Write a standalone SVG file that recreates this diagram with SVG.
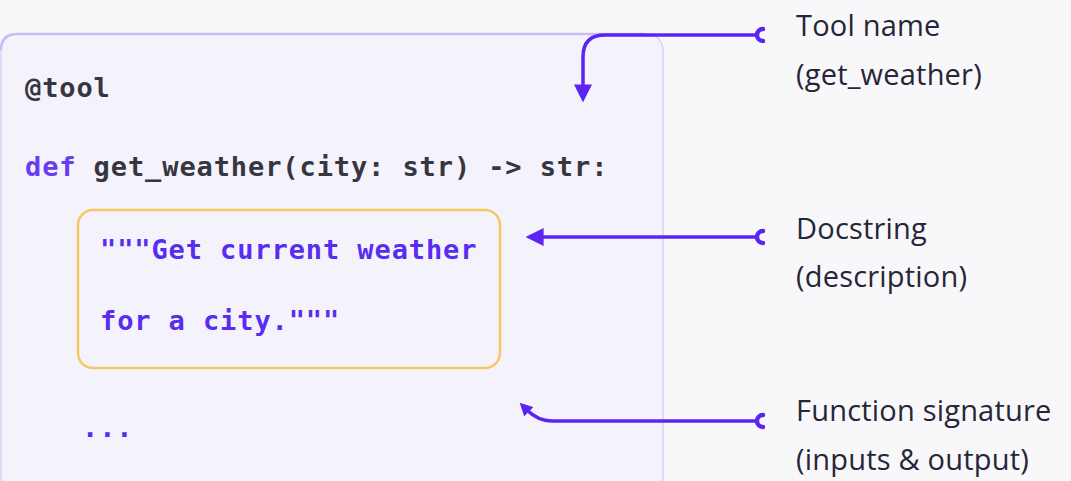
<svg xmlns="http://www.w3.org/2000/svg" width="1071" height="481" viewBox="0 0 1071 481">
  <style>
    .code { font-family: "DejaVu Sans Mono", "Liberation Mono", monospace; font-size: 27px; font-weight: bold; letter-spacing: 0.9px; }
    .dark { fill: #363642; }
    .kw { fill: #6a3cf0; }
    .doc { fill: #5a2cf2; }
    .label { font-family: "Open Sans", "Noto Sans", sans-serif; font-size: 29px; font-weight: 500; letter-spacing: 0.2px; fill: #262638; }
    .wire { fill: none; stroke: #5b24f2; stroke-width: 3.5; stroke-linecap: round; }
    .cap { fill: none; stroke: #5b24f2; stroke-width: 4.5; stroke-linecap: round; }
  </style>
  <defs>
    <marker id="head" viewBox="0 0 10 10" refX="2" refY="5" markerWidth="18" markerHeight="18" markerUnits="userSpaceOnUse" orient="auto">
      <path d="M0,0 L10,5 L0,10 z" fill="#5b24f2"/>
    </marker>
    <marker id="headSmall" viewBox="0 0 10 10" refX="2" refY="5" markerWidth="13" markerHeight="13" markerUnits="userSpaceOnUse" orient="auto">
      <path d="M0,0 L10,5 L0,10 z" fill="#5b24f2"/>
    </marker>
  </defs>

  <!-- page background -->
  <rect x="0" y="0" width="1071" height="481" fill="#f8f8fa"/>

  <!-- code panel -->
  <g id="code-panel">
    <rect x="1" y="34" width="662" height="480" rx="16" fill="#f4f3fb" stroke="#d9d2f7" stroke-width="1.5"/>
    <path d="M1,50 Q1,34 17,34 H645" stroke="#c9bdf6" stroke-width="2.5" fill="none"/>
    <text class="code dark" x="25" y="97">@tool</text>
    <text class="code" x="25" y="176"><tspan class="kw">def</tspan><tspan class="dark"> get_weather(city: str) -&gt; str:</tspan></text>
    <text class="code doc" x="82" y="437">...</text>
  </g>

  <!-- docstring block -->
  <g id="docstring">
    <rect x="78" y="210" width="422" height="158" rx="15" fill="#f4f3fb" stroke="#f5c865" stroke-width="2.5"/>
    <text class="code doc" x="100" y="259">"""Get current weather</text>
    <text class="code doc" x="100" y="330">for a city."""</text>
  </g>

  <!-- annotation labels -->
  <g id="label-tool-name">
    <text class="label" x="796" y="36">Tool name</text>
    <text class="label" x="796" y="85">(get_weather)</text>
  </g>
  <g id="label-docstring">
    <text class="label" x="796" y="239">Docstring</text>
    <text class="label" x="796" y="287">(description)</text>
  </g>
  <g id="label-signature">
    <text class="label" x="796" y="421">Function signature</text>
    <text class="label" x="796" y="470">(inputs &amp; output)</text>
  </g>

  <!-- connectors -->
  <g id="connectors">
    <path class="wire" d="M757,35 H605 Q583,35 583,57 V88" marker-end="url(#head)"/>
    <path class="cap" d="M763,29 A6,6 0 0 0 763,41"/>

    <path class="wire" d="M757,237 H540" marker-end="url(#head)"/>
    <path class="cap" d="M763,231 A6,6 0 0 0 763,243"/>

    <path class="wire" d="M757,421 H552 Q538,421 527,410" marker-end="url(#headSmall)"/>
    <path class="cap" d="M763,415 A6,6 0 0 0 763,427"/>
  </g>
</svg>
